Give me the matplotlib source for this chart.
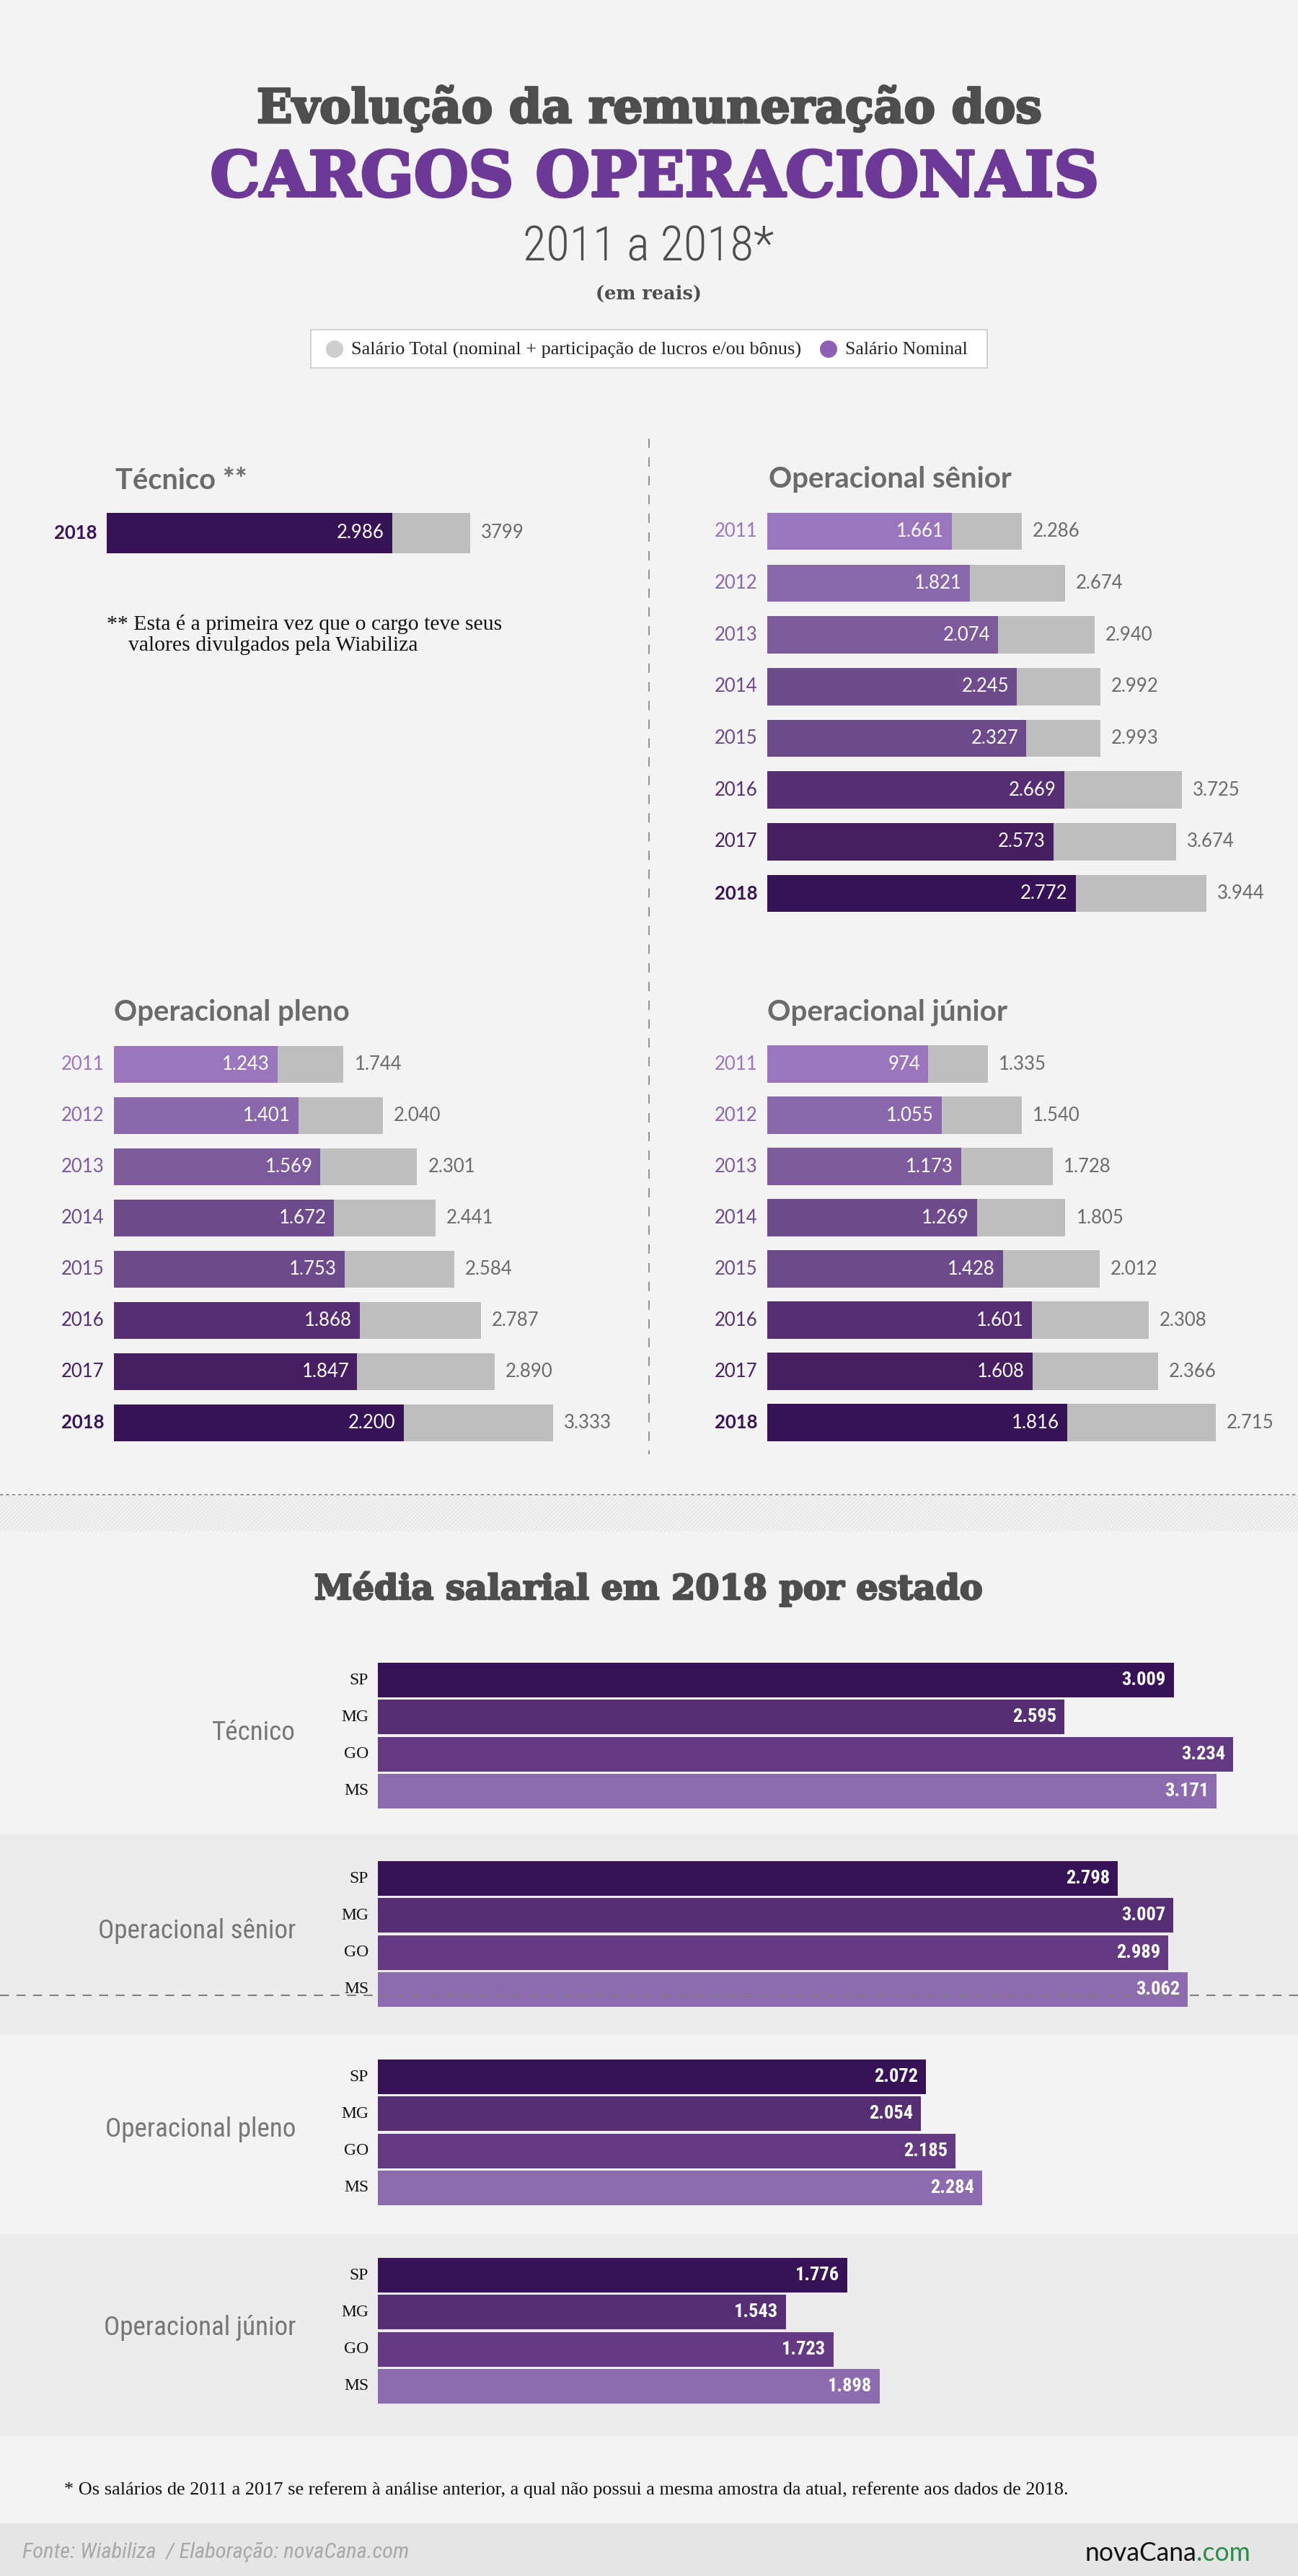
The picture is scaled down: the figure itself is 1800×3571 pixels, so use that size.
import matplotlib
matplotlib.use("Agg")
import matplotlib.pyplot as plt
import matplotlib.font_manager as fm
import matplotlib.patheffects as pe
from matplotlib.patches import Rectangle, Circle

# ---- data (R$) ----
years = ['2011', '2012', '2013', '2014', '2015', '2016', '2017', '2018']

tec_years = ['2018']
tec_nominal = [2986]
tec_total = [3799]

sen_nominal = [1661, 1821, 2074, 2245, 2327, 2669, 2573, 2772]
sen_total = [2286, 2674, 2940, 2992, 2993, 3725, 3674, 3944]

ple_nominal = [1243, 1401, 1569, 1672, 1753, 1868, 1847, 2200]
ple_total = [1744, 2040, 2301, 2441, 2584, 2787, 2890, 3333]

jun_nominal = [974, 1055, 1173, 1269, 1428, 1601, 1608, 1816]
jun_total = [1335, 1540, 1728, 1805, 2012, 2308, 2366, 2715]

states = ['SP', 'MG', 'GO', 'MS']
st_tecnico = [3009, 2595, 3234, 3171]
st_senior = [2798, 3007, 2989, 3062]
st_pleno = [2072, 2054, 2185, 2284]
st_junior = [1776, 1543, 1723, 1898]

# ---- styles ----
BG = '#f3f3f3'
BAND = '#ececec'
GRAY = '#bebebe'
DARK = '#4d4d4d'
MID = '#6b6b6b'
PURPLE = '#6d3996'
year_colors = ['#9b76bd', '#8968ac', '#7c5a9b', '#6d4b8d',
               '#6c4a8c', '#552e74', '#461f63', '#371256']
state_colors = ['#371256', '#552e74', '#643b82', '#8c6bae']

avail = {f.name for f in fm.fontManager.ttflist}
def pick(*names):
    for n in names:
        if n in avail:
            return n
    return 'DejaVu Sans'

SLAB = pick('DejaVu Serif')
SANS = pick('Lato', 'Open Sans', 'Roboto')
COND = pick('Roboto Condensed', 'Liberation Sans Narrow', 'Roboto', 'Lato')
SERIF = pick('Liberation Serif', 'DejaVu Serif')

def br(v):
    return f"{v:,}".replace(',', '.')

W, H = 1800, 3571
fig = plt.figure(figsize=(W / 100, H / 100), dpi=100, facecolor=BG)
bg = fig.add_axes([0, 0, 1, 1], zorder=0)
bg.set_xlim(0, W)
bg.set_ylim(H, 0)
bg.axis('off')
renderer = fig.canvas.get_renderer()

def fit(t, width):
    w = t.get_window_extent(renderer).width
    t.set_fontsize(t.get_fontsize() * width / w)
    return t

def heavy(t, color, lw=2.2):
    # thicken the slab titles a little
    t.set_path_effects([pe.withStroke(linewidth=lw, foreground=color)])
    return t

def px_axes(left, top, width, height, z=2):
    ax = fig.add_axes([left / W, 1 - (top + height) / H, width / W, height / H], zorder=z)
    ax.axis('off')
    return ax

# ---- background decoration ----
bg.add_patch(Rectangle((0, 2543), W, 278, color=BAND, lw=0))
bg.add_patch(Rectangle((0, 3097), W, 280, color=BAND, lw=0))
bg.add_patch(Rectangle((0, 3498), W, H - 3498, color='#e5e5e5', lw=0))
plt.rcParams['hatch.linewidth'] = 1.2
bg.add_patch(Rectangle((0, 2073), W, 50, facecolor='none', edgecolor='#e6e6e6',
                       hatch='//////', lw=0))
bg.plot([900, 900], [608, 2016], color='#777777', lw=1.1, ls=(0, (8.5, 8.5)))
bg.plot([0, W], [2072, 2072], color='#9a9a9a', lw=1.5, ls=(0, (2.2, 1.8)))

# ---- header ----
heavy(fit(bg.text(900, 170, 'Evolução da remuneração dos', ha='center', va='baseline',
                  family=SLAB, fontweight='bold', color=DARK, fontsize=50), 1090), DARK)
heavy(fit(bg.text(908, 272, 'CARGOS OPERACIONAIS', ha='center', va='baseline',
                  family=SLAB, fontweight='bold', color=PURPLE, fontsize=66), 1232), PURPLE, 2.8)
fit(bg.text(899, 361, '2011 a 2018*', ha='center', va='baseline',
            family=COND, fontweight='light', color=DARK, fontsize=40), 348)
fit(bg.text(900, 415, '(em reais)', ha='center', va='baseline',
            family=SLAB, fontweight='bold', color=DARK, fontsize=18), 147)

# legend box
bg.add_patch(Rectangle((431, 457), 938, 53, facecolor='white', edgecolor='#d2d2d2', lw=1.5))
bg.add_patch(Circle((464, 484), 12, color='#cccccc', lw=0))
bg.add_patch(Circle((1149, 484), 12, color='#8f5fb5', lw=0))
fit(bg.text(487, 485, 'Salário Total (nominal + participação de lucros e/ou bônus)',
            ha='left', va='center', family=SERIF, color='#222222', fontsize=17), 625)
fit(bg.text(1172, 485, 'Salário Nominal', ha='left', va='center',
            family=SERIF, color='#222222', fontsize=17), 170)

# ---- evolution panels ----
def evolution(title, title_x, title_w, left, top, spacing, scale, labels, nominal, total,
              colors, bar_h, total_fmt=br):
    n = len(labels)
    wpx = 720
    ax = px_axes(left, top, wpx, n * spacing)
    ax.set_xlim(0, wpx / scale)
    ax.set_ylim(n - 0.5, -0.5)
    pos = list(range(n))
    ax.barh(pos, total, height=bar_h, color=GRAY)
    ax.barh(pos, nominal, height=bar_h, color=colors)
    for i, (lab, nv, tv, c) in enumerate(zip(labels, nominal, total, colors)):
        ax.annotate(br(nv), (nv, i), xytext=(-8, 0), textcoords='offset points',
                    ha='right', va='center', color='white', fontsize=18.5, family=SANS,
                    annotation_clip=False)
        ax.annotate(total_fmt(tv), (tv, i), xytext=(11, 0), textcoords='offset points',
                    ha='left', va='center', color=MID, fontsize=18.5, family=SANS,
                    annotation_clip=False)
        ax.annotate(lab, (0, i), xytext=(-10, 0), textcoords='offset points',
                    ha='right', va='center', color=c, fontsize=18.5, family=SANS,
                    fontweight='bold' if lab == '2018' else 'normal',
                    annotation_clip=False)
    fit(bg.text(title_x, top - 25, title, ha='left', va='baseline', family=SANS,
                fontweight='bold', color=MID, fontsize=28), title_w)
    return ax

evolution('Técnico **', 160, 183, 148, 703.5, 71, 0.1326, tec_years, tec_nominal,
          tec_total, [year_colors[-1]], 0.79, total_fmt=str)
evolution('Operacional sênior', 1066, 336, 1064, 700.8, 71.7, 0.1543, years, sen_nominal,
          sen_total, year_colors, 0.72)
evolution('Operacional pleno', 158, 326, 158, 1440.5, 70.9, 0.1826, years, ple_nominal,
          ple_total, year_colors, 0.72)
evolution('Operacional júnior', 1064, 333, 1064, 1439.5, 71.0, 0.229, years, jun_nominal,
          jun_total, year_colors, 0.72)

t1 = fit(bg.text(148, 873, '** Esta é a primeira vez que o cargo teve seus', ha='left',
                 va='baseline', family=SERIF, color='#111111', fontsize=17), 549)
bg.text(178, 902, 'valores divulgados pela Wiabiliza', ha='left', va='baseline',
        family=SERIF, color='#111111', fontsize=t1.get_fontsize())

# ---- state section ----
heavy(fit(bg.text(900, 2217, 'Média salarial em 2018 por estado', ha='center', va='baseline',
                  family=SLAB, fontweight='bold', color=DARK, fontsize=38), 926), DARK, 1.8)

probe = bg.text(0, 0, 'Operacional sênior', family=COND, fontsize=22)
fit(probe, 275)
GROUP_FS = probe.get_fontsize()
probe.remove()

def state_group(center, name, values):
    sp = 51.3
    wpx = 1250
    ax = px_axes(523.5, center - 2 * sp, wpx, 4 * sp)
    ax.set_xlim(0, wpx / 0.367)
    ax.set_ylim(3.5, -0.5)
    ax.barh(range(len(states)), values, height=0.93, color=state_colors)
    for i, (s, v) in enumerate(zip(states, values)):
        ax.annotate(br(v), (v, i), xytext=(-8, 0), textcoords='offset points',
                    ha='right', va='center', color='white', fontsize=19,
                    family=COND, fontweight='bold', annotation_clip=False)
        ax.annotate(s, (0, i), xytext=(-9, 0), textcoords='offset points',
                    ha='right', va='center', color='#111111', fontsize=17,
                    family=SERIF, annotation_clip=False)
    bg.text(410, center - 4, name, ha='right', va='center', family=COND,
            color='#777777', fontsize=GROUP_FS)

state_group(2406, 'Técnico', st_tecnico)
state_group(2681, 'Operacional sênior', st_senior)
state_group(2956, 'Operacional pleno', st_pleno)
state_group(3231, 'Operacional júnior', st_junior)

# dashed rule over the senior group
top_ax = fig.add_axes([0, 0, 1, 1], zorder=5)
top_ax.set_xlim(0, W)
top_ax.set_ylim(H, 0)
top_ax.axis('off')
top_ax.plot([0, W], [2766, 2766], color='#808080', lw=1.5, ls=(0, (6, 5)))

# ---- footer ----
fit(bg.text(89, 3452, '* Os salários de 2011 a 2017 se referem à análise anterior, a qual não '
            'possui a mesma amostra da atual, referente aos dados de 2018.',
            ha='left', va='center', family=SERIF, color='#111111', fontsize=15), 1397)
fit(bg.text(31, 3538, 'Fonte: Wiabiliza  / Elaboração: novaCana.com', ha='left',
            va='center', family=COND, style='italic', color='#a8a8a8', fontsize=17), 537)
logo = fit(bg.text(1659, 3540, 'novaCana', ha='right', va='center', family=SANS,
                   color='#111111', fontsize=20), 155)
bg.text(1659, 3540, '.com', ha='left', va='center', family=SANS,
        color='#2a8c48', fontsize=logo.get_fontsize())

fig.savefig('out.png', dpi=100, facecolor=BG)
